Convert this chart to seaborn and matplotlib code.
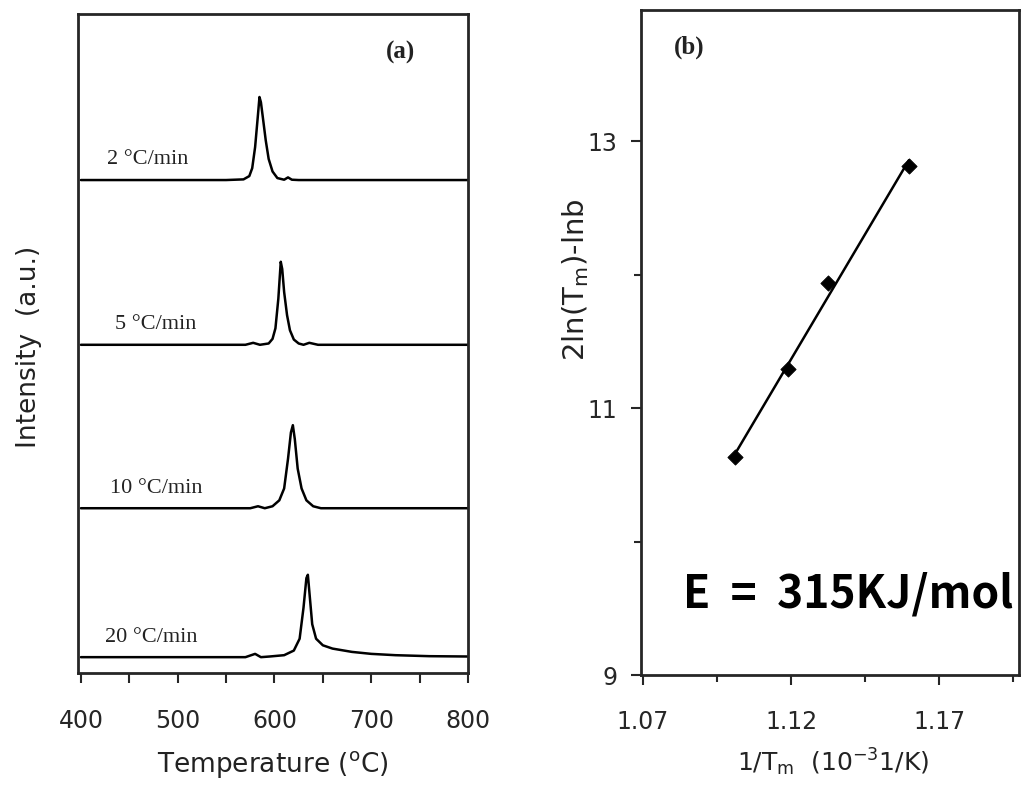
import numpy as np
import pandas as pd
import matplotlib
matplotlib.use("Agg")
import matplotlib.pyplot as plt
import seaborn as sns
from matplotlib.ticker import MultipleLocator, FixedLocator

sns.set_style("ticks")
plt.rcParams['font.family'] = ['DejaVu Sans']
plt.rcParams['mathtext.default'] = 'regular'

# (a) TPD-like curves, one per heating rate; intensity
rates = ["2 °C/min", "5 °C/min", "10 °C/min", "20 °C/min"]
offsets = [74.8, 49.8, 25.0, 2.4]
label_x = [427, 435, 430, 425]

temp_2 = [400, 550, 568, 574, 577, 580, 583, 584.5, 586, 588, 591, 594, 598, 603, 610, 614, 618, 625, 800]
int_2 = [0, 0, 0.1, 0.6, 1.8, 5.0, 10.0, 12.6, 11.8, 9.5, 6.0, 3.2, 1.3, 0.3, 0.05, 0.4, 0.05, 0, 0]

temp_5 = [400, 570, 578, 585, 594, 598, 601, 604, 606.5, 608, 610, 613, 616, 620, 625, 630, 636, 645, 800]
int_5 = [0, 0, 0.3, 0, 0.2, 0.9, 2.5, 7.0, 12.6, 11.5, 8.0, 4.5, 2.2, 0.8, 0.2, 0, 0.3, 0, 0]

temp_10 = [400, 575, 583, 590, 598, 605, 610, 614, 617, 619, 621, 624, 628, 633, 640, 648, 800]
int_10 = [0, 0, 0.3, 0, 0.3, 1.2, 3.0, 7.5, 11.5, 12.6, 10.5, 6.0, 3.0, 1.2, 0.3, 0, 0]

temp_20 = [400, 570, 580, 586, 595, 610, 620, 626, 630, 633, 634.5, 636, 639, 643, 650, 660, 680, 700, 725, 760, 800]
int_20 = [0, 0, 0.5, 0, 0.1, 0.3, 1.0, 2.8, 7.5, 12.0, 12.5, 10.0, 5.0, 2.8, 1.8, 1.3, 0.8, 0.5, 0.3, 0.15, 0.1]

temps = [temp_2, temp_5, temp_10, temp_20]
intens = [int_2, int_5, int_10, int_20]

# (b) Kissinger plot
inv_tm = [1.101, 1.119, 1.1325, 1.1598]
kiss_y = [10.63, 11.29, 11.94, 12.81]

serif = ['Liberation Serif', 'DejaVu Serif']

fig = plt.figure(figsize=(10.21, 7.85), dpi=100)
ax1 = fig.add_axes([0.0764, 0.1427, 0.3820, 0.8395])
ax2 = fig.add_axes([0.6278, 0.1401, 0.3702, 0.8469])

rows = []
for name, t, v, off in zip(rates, temps, intens, offsets):
    for ti, vi in zip(t, v):
        rows.append({"rate": name, "T": ti, "I": vi + off})
df = pd.DataFrame(rows)
sns.lineplot(data=df, x="T", y="I", units="rate", estimator=None, color="black",
             linewidth=1.8, sort=False, ax=ax1)

for name, off, lx in zip(rates, offsets, label_x):
    ax1.text(lx, off + 1.6, name, family=serif, fontsize=16,
             ha="left", va="bottom", color="#222")
ax1.text(0.826, 0.942, "(a)", transform=ax1.transAxes, family=serif,
         fontsize=18, fontweight="bold", ha="center", va="center", color="#222")

ax1.set_xlim(397, 800)
ax1.set_ylim(0, 100)
ax1.xaxis.set_major_locator(MultipleLocator(100))
ax1.xaxis.set_minor_locator(MultipleLocator(50))
ax1.set_yticks([])
ax1.tick_params(axis="x", which="both", direction="out", length=7, width=1.5, labelsize=17, pad=19)
ax1.set_xlabel("Temperature ($^{o}$C)", fontsize=19, color="#222")
ax1.set_ylabel("Intensity  (a.u.)", fontsize=19, color="#222")
ax1.xaxis.set_label_coords(0.5, -0.115)
ax1.yaxis.set_label_coords(-0.092, 0.495)
for s in ax1.spines.values():
    s.set_linewidth(2)

sns.scatterplot(x=inv_tm, y=kiss_y, marker="D", s=60, color="black", edgecolor="black", ax=ax2, zorder=3)
slope, icpt = np.polyfit(inv_tm, kiss_y, 1)
xfit = np.array([inv_tm[0], inv_tm[-1]])
sns.lineplot(x=xfit, y=slope * xfit + icpt, color="black", linewidth=1.8, ax=ax2)
ax2.text(0.127, 0.944, "(b)", transform=ax2.transAxes, family=serif,
         fontsize=18, fontweight="bold", ha="center", va="center", color="#222")

ax2.set_xlim(1.0693, 1.197)
ax2.set_ylim(9, 13.98)
ax2.set_xticks([1.07, 1.12, 1.17])
ax2.xaxis.set_minor_locator(FixedLocator([1.095, 1.145, 1.195]))
ax2.set_yticks([9, 11, 13])
ax2.yaxis.set_minor_locator(FixedLocator([10, 12]))
ax2.tick_params(axis="both", which="major", direction="out", length=7, width=1.5, labelsize=17)
ax2.tick_params(axis="both", which="minor", direction="out", length=5, width=1.5)
ax2.tick_params(axis="x", which="both", pad=18)
ax2.tick_params(axis="y", which="both", pad=10)
ax2.set_xlabel("1/T$_m$  (10$^{-3}$1/K)", fontsize=18, color="#222")
ax2.set_ylabel("2ln(T$_m$)-lnb", fontsize=21, color="#222")
ax2.xaxis.set_label_coords(0.508, -0.108)
ax2.yaxis.set_label_coords(-0.132, 0.594)
for s in ax2.spines.values():
    s.set_linewidth(2)

fig.text(683 / 1021, 1 - 607 / 785, "E  =  315KJ/mol", family=['Noto Sans CJK KR', 'DejaVu Sans'],
         fontsize=32, fontweight="bold", ha="left", va="baseline", color="black")

fig.savefig("out.png", dpi=100)
